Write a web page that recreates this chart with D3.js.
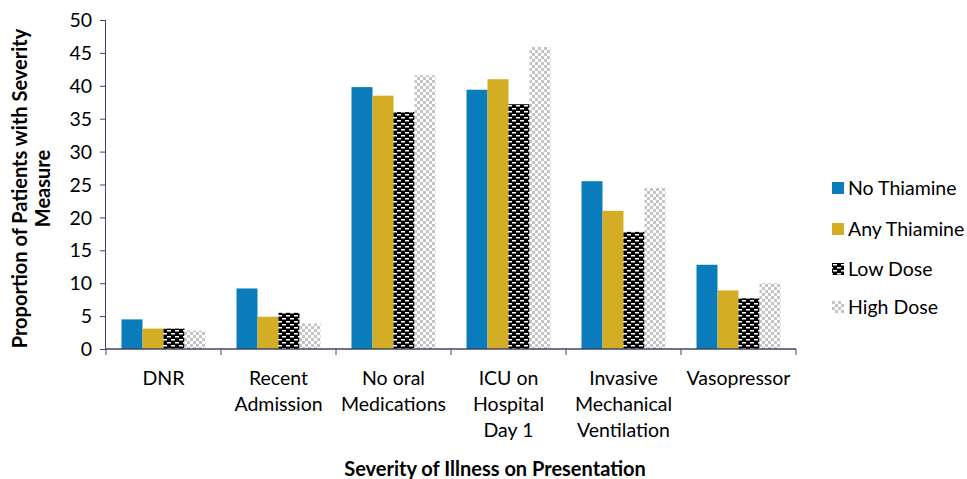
<!DOCTYPE html>
<html>
<head>
<meta charset="utf-8">
<script src="https://cdn.jsdelivr.net/npm/d3@7"></script>
<style>
  body { margin: 0; background: #fff; }
  svg { display: block; }
  text { font-family: Lato, "Open Sans", sans-serif; fill: #000; }
</style>
</head>
<body>
<svg id="chart" width="967" height="479"></svg>
<script>
// Severity measures on presentation, by thiamine group (%)
const categories = [
  ["DNR"],
  ["Recent", "Admission"],
  ["No oral", "Medications"],
  ["ICU on", "Hospital", "Day 1"],
  ["Invasive", "Mechanical", "Ventilation"],
  ["Vasopressor"]
];
const seriesNames = ["No Thiamine", "Any Thiamine", "Low Dose", "High Dose"];
const noThiamine  = [4.5, 9.2, 39.8, 39.4, 25.5, 12.8];
const anyThiamine = [3.1, 4.9, 38.5, 41.0, 21.0, 8.9];
const lowDose     = [3.1, 5.5, 36.0, 37.2, 17.8, 7.7];
const highDose    = [2.8, 3.9, 41.6, 45.9, 24.5, 10.0];
const yTicks = [0, 5, 10, 15, 20, 25, 30, 35, 40, 45, 50];

const seriesValues = [noThiamine, anyThiamine, lowDose, highDose];

const FONT = 19.5;
const BOLD_FONT = 20;

const svg = d3.select("#chart");
const margin = { left: 106, right: 171, top: 20, bottom: 130 };
const width = 967 - margin.left - margin.right;
const height = 479 - margin.top - margin.bottom;

// Fill patterns for the two dose groups
const defs = svg.append("defs");
const lowPat = defs.append("pattern")
  .attr("id", "lowDose").attr("patternUnits", "userSpaceOnUse")
  .attr("width", 8).attr("height", 6);
lowPat.append("rect").attr("width", 8).attr("height", 6).attr("fill", "#000");
lowPat.append("rect").attr("x", 1).attr("y", 1).attr("width", 4).attr("height", 1.5).attr("fill", "#fff");
lowPat.append("rect").attr("x", 5).attr("y", 4).attr("width", 3).attr("height", 1.5).attr("fill", "#fff");
lowPat.append("rect").attr("x", 0).attr("y", 4).attr("width", 1).attr("height", 1.5).attr("fill", "#fff");

const highPat = defs.append("pattern")
  .attr("id", "highDose").attr("patternUnits", "userSpaceOnUse")
  .attr("width", 6).attr("height", 6);
highPat.append("rect").attr("width", 6).attr("height", 6).attr("fill", "#fff");
highPat.append("rect").attr("width", 3).attr("height", 3).attr("fill", "#c4c4c4");
highPat.append("rect").attr("x", 3).attr("y", 3).attr("width", 3).attr("height", 3).attr("fill", "#c4c4c4");

const fills = ["#0a7bbb", "#d3ad23", "url(#lowDose)", "url(#highDose)"];

const g = svg.append("g").attr("transform", `translate(${margin.left},${margin.top})`);

const x0 = d3.scaleBand().domain(d3.range(categories.length)).range([0, width]).paddingInner(0).paddingOuter(0);
const x1 = d3.scaleBand().domain(d3.range(seriesNames.length)).range([15.5, x0.bandwidth() - 15.5]).padding(0);
const y = d3.scaleLinear().domain([0, 50]).range([height, 0]);

// Bars
categories.forEach((c, i) => {
  const grp = g.append("g").attr("transform", `translate(${x0(i)},0)`);
  seriesValues.forEach((vals, s) => {
    grp.append("rect")
      .attr("x", x1(s))
      .attr("y", y(vals[i]))
      .attr("width", x1.bandwidth())
      .attr("height", height - y(vals[i]))
      .attr("fill", fills[s]);
  });
});

const axisColor = "#3d4462";

// Y axis
const yAxis = g.append("g").call(d3.axisLeft(y).tickValues(yTicks).tickSize(6).tickPadding(8));
yAxis.select(".domain").attr("stroke", axisColor).attr("d", `M-0.5,${height}V0.5`);
yAxis.selectAll(".tick line").attr("stroke", axisColor);
yAxis.selectAll(".tick text").attr("font-size", FONT).attr("font-family", "Lato, sans-serif").attr("dy", "0.34em");

// X axis: category separator ticks
const xg = g.append("g").attr("transform", `translate(0,${height})`);
xg.append("line").attr("x1", 0).attr("x2", width).attr("stroke", axisColor).attr("stroke-width", 1.5);
d3.range(categories.length + 1).forEach(i => {
  const xx = i < categories.length ? x0(i) : width;
  xg.append("line").attr("x1", xx).attr("x2", xx).attr("y1", 0).attr("y2", 6).attr("stroke", axisColor);
});

// Category labels
categories.forEach((lines, i) => {
  const t = xg.append("text")
    .attr("text-anchor", "middle")
    .attr("font-size", FONT)
    .attr("transform", `translate(${x0(i) + x0.bandwidth() / 2},36)`);
  lines.forEach((ln, k) => {
    t.append("tspan").attr("x", 0).attr("y", k * 26).text(ln);
  });
});

// Axis titles
svg.append("text")
  .attr("x", 495).attr("y", 476)
  .attr("text-anchor", "middle").attr("font-size", BOLD_FONT).attr("font-weight", "bold")
  .text("Severity of Illness on Presentation");

const yt = svg.append("text")
  .attr("transform", `translate(27,${margin.top + height / 2 + 4}) rotate(-90)`)
  .attr("text-anchor", "middle").attr("font-size", BOLD_FONT).attr("font-weight", "bold");
yt.append("tspan").attr("x", 0).attr("y", 0).text("Proportion of Patients with Severity");
yt.append("tspan").attr("x", 0).attr("y", 23).text("Measure");

// Legend
const legend = svg.append("g").attr("transform", "translate(832,188)");
seriesNames.forEach((name, s) => {
  const row = legend.append("g").attr("transform", `translate(0,${[0, 41, 81, 119][s]})`);
  row.append("rect").attr("x", 0).attr("y", -6).attr("width", 12).attr("height", 12).attr("fill", fills[s]);
  row.append("text").attr("x", 16).attr("y", 0).attr("dy", "0.35em").attr("font-size", FONT).text(name);
});
</script>
</body>
</html>
